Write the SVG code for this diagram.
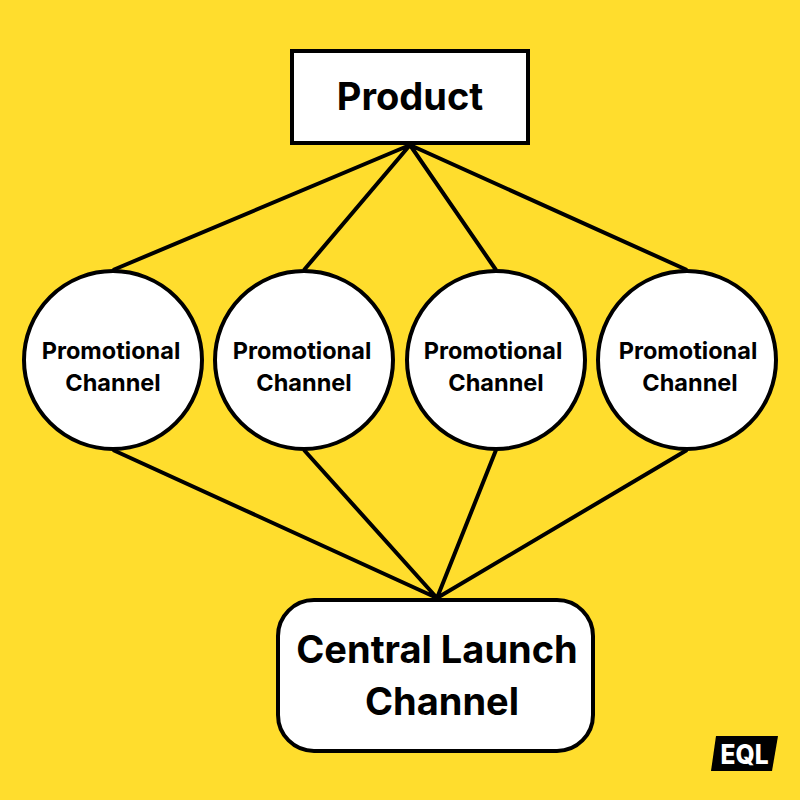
<svg xmlns="http://www.w3.org/2000/svg" width="800" height="800" viewBox="0 0 800 800">
<style>
.n{fill:#fff;stroke:#000;stroke-width:4}
.c{stroke:#000;stroke-width:4;fill:none}
text{font-family:Inter,"Liberation Sans",sans-serif;font-weight:700;fill:#000;text-anchor:middle}
.s{font-size:23.500px}
.l{font-size:38px}
</style>
<rect width="800" height="800" fill="#ffdd2d"/>
<g id="connectors" class="c">
<path d="M410 145L113 270M410 145L304 270M410 145L496 270M410 145L687 270"/>
<path d="M113 450L437 598M304 450L437 598M496 450L437 598M687 450L437 598"/>
</g>
<g id="product"><rect class="n" x="292" y="51" width="236" height="92"/><text class="l" x="410" y="110">Product</text></g>
<g id="ch1"><circle class="n" cx="113" cy="360" r="89"/><text class="s" x="111" y="359">Promotional</text><text class="s" x="113" y="391">Channel</text></g>
<g id="ch2"><circle class="n" cx="304" cy="360" r="89"/><text class="s" x="302" y="359">Promotional</text><text class="s" x="304" y="391">Channel</text></g>
<g id="ch3"><circle class="n" cx="496" cy="360" r="89"/><text class="s" x="493" y="359">Promotional</text><text class="s" x="496" y="391">Channel</text></g>
<g id="ch4"><circle class="n" cx="687" cy="360" r="89"/><text class="s" x="688" y="359">Promotional</text><text class="s" x="690" y="391">Channel</text></g>
<g id="central"><rect class="n" x="278" y="600" width="315" height="151" rx="36"/><text class="l" x="437" y="663">Central Launch</text><text class="l" x="442" y="715">Channel</text></g>
<g id="logo"><polygon points="716,736 778,736 772,771 711,771" fill="#000"/><text x="744.500" y="764" font-size="27" style="fill:#fff;font-weight:800" textLength="48" lengthAdjust="spacingAndGlyphs">EQL</text></g>
</svg>
